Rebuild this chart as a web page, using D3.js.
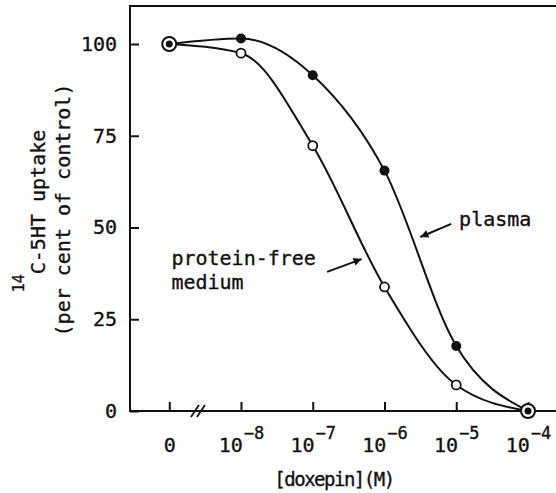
<!DOCTYPE html>
<html>
<head>
<meta charset="utf-8">
<script src="https://cdn.jsdelivr.net/npm/d3@7"></script>
<style>
  body { margin: 0; background: #fff; }
  text { font-family: "DejaVu Sans Mono", monospace; fill: #111; stroke: #111; stroke-width: 0.35px; }
</style>
</head>
<body>
<div id="chart"></div>
<script>
// data
var doses = [0, 1e-8, 1e-7, 1e-6, 1e-5, 1e-4];
var plasma = [100, 101.5, 91.5, 65.5, 17.7, 0];
var proteinFree = [100, 97.5, 72.3, 33.8, 7.1, 0];
var yTicks = [0, 25, 50, 75, 100];
var xTickExps = [null, -8, -7, -6, -5, -4];   // null = zero dose

var width = 556, height = 493;
var frameLeft = 130, frameTop = 6, frameBottom = 411;

var svg = d3.select("#chart")
  .append("svg")
    .attr("width", width)
    .attr("height", height);

// log scale for dose, the zero dose sits one decade below 10^-8 (axis is broken)
var x = d3.scaleLog()
  .domain([1e-8, 1e-4])
  .range([241, 528]);
var zeroAt = 1e-9;
function px(d) { return d === 0 ? x(zeroAt) : x(d); }

var y = d3.scaleLinear()
  .domain([0, 100])
  .range([frameBottom, 44]);

// frame: top line, left axis, bottom axis
svg.append("path")
  .attr("d", "M" + width + "," + frameTop + "H" + frameLeft + "V" + frameBottom + "H" + width)
  .attr("fill", "none")
  .attr("stroke", "#111")
  .attr("stroke-width", 2);

// Y axis, ticks pointing inside
var yAxis = svg.append("g")
  .attr("transform", "translate(" + frameLeft + ",0)")
  .call(d3.axisLeft(y).tickValues(yTicks).tickSize(-9).tickPadding(13))
yAxis.select(".domain").remove()
yAxis.selectAll("line").attr("stroke", "#111").attr("stroke-width", 2)
yAxis.selectAll("text").style("font-size", "20px").attr("fill", "#111")

// X axis
var xVals = xTickExps.map(function(e) { return e === null ? zeroAt : Math.pow(10, e); });
var xAxis = svg.append("g")
  .attr("transform", "translate(0," + frameBottom + ")")
  .call(d3.axisBottom(x).tickValues(xVals).tickSize(-9).tickFormat(""))
xAxis.select(".domain").remove()
xAxis.selectAll("line").attr("stroke", "#111").attr("stroke-width", 2)

xAxis.selectAll(".tick").each(function(d, i) {
  var t = d3.select(this).select("text")
    .attr("y", 41).attr("dy", 0)
    .attr("text-anchor", "middle")
    .style("font-size", "20px");
  var e = xTickExps[i];
  if (e === null) {
    t.text("0");
  } else {
    t.text("");
    t.append("tspan").text("10");
    t.append("tspan").attr("dy", -13).attr("dx", 1).style("font-size", "17px").text("\u2212" + Math.abs(e));
  }
});

// axis break marks
var bx = x(Math.pow(10, -8.6));
[-3, 3].forEach(function(o) {
  svg.append("line")
    .attr("x1", bx + o - 4).attr("y1", frameBottom + 6)
    .attr("x2", bx + o + 4).attr("y2", frameBottom - 6)
    .attr("stroke", "#111").attr("stroke-width", 1.8);
});

// curves
var line = d3.line()
  .curve(d3.curveMonotoneX)
  .x(function(d) { return px(d[0]); })
  .y(function(d) { return y(d[1]); });

[plasma, proteinFree].forEach(function(vals) {
  svg.append("path")
    .datum(doses.map(function(d, i) { return [d, vals[i]]; }))
    .attr("fill", "none")
    .attr("stroke", "#111")
    .attr("stroke-width", 2)
    .attr("d", line);
});

// points
doses.forEach(function(d, i) {
  if (plasma[i] === proteinFree[i]) {
    svg.append("circle").attr("cx", px(d)).attr("cy", y(plasma[i])).attr("r", 7)
      .attr("fill", "#fff").attr("stroke", "#111").attr("stroke-width", 2);
    svg.append("circle").attr("cx", px(d)).attr("cy", y(plasma[i])).attr("r", 3.5)
      .attr("fill", "#111");
  } else {
    svg.append("circle").attr("cx", px(d)).attr("cy", y(proteinFree[i])).attr("r", 4.5)
      .attr("fill", "#fff").attr("stroke", "#111").attr("stroke-width", 1.8);
    svg.append("circle").attr("cx", px(d)).attr("cy", y(plasma[i])).attr("r", 5)
      .attr("fill", "#111");
  }
});

// arrowhead
svg.append("defs").append("marker")
  .attr("id", "arrow")
  .attr("viewBox", "0 0 10 10")
  .attr("refX", 10).attr("refY", 5)
  .attr("markerWidth", 10).attr("markerHeight", 8)
  .attr("markerUnits", "userSpaceOnUse")
  .attr("orient", "auto")
  .append("path")
    .attr("d", "M0,0L10,5L0,10z")
    .attr("fill", "#111");

function arrow(x1, v1, x2, v2) {
  svg.append("line")
    .attr("x1", x(x1)).attr("y1", y(v1))
    .attr("x2", x(x2)).attr("y2", y(v2))
    .attr("stroke", "#111").attr("stroke-width", 2)
    .attr("marker-end", "url(#arrow)");
}

// labels
svg.append("text")
  .attr("x", x(Math.pow(10, -4.96))).attr("y", y(50.4))
  .style("font-size", "20px")
  .text("plasma");
arrow(Math.pow(10, -5.07), 51, Math.pow(10, -5.5), 47.4);

svg.append("text")
  .attr("x", x(Math.pow(10, -8.97))).attr("y", y(39.8))
  .style("font-size", "20px")
  .text("protein-free");
svg.append("text")
  .attr("x", x(Math.pow(10, -8.97))).attr("y", y(33.2))
  .style("font-size", "20px")
  .text("medium");
arrow(Math.pow(10, -6.8), 37.9, Math.pow(10, -6.32), 41.4);

// axis titles
var yt = svg.append("text")
  .attr("transform", "translate(45,211) rotate(-90)")
  .attr("text-anchor", "middle")
  .style("font-size", "20px");
yt.append("tspan").attr("dy", -21).style("font-size", "15px").text("14");
yt.append("tspan").attr("dy", 21).text("C-5HT uptake");

svg.append("text")
  .attr("transform", "translate(70,210) rotate(-90)")
  .attr("text-anchor", "middle")
  .style("font-size", "20px")
  .text("(per cent of control)");

svg.append("text")
  .attr("x", 334).attr("y", 486)
  .attr("text-anchor", "middle")
  .style("font-size", "19px")
  .style("letter-spacing", "-1.5px")
  .text("[doxepin](M)");
</script>
</body>
</html>
